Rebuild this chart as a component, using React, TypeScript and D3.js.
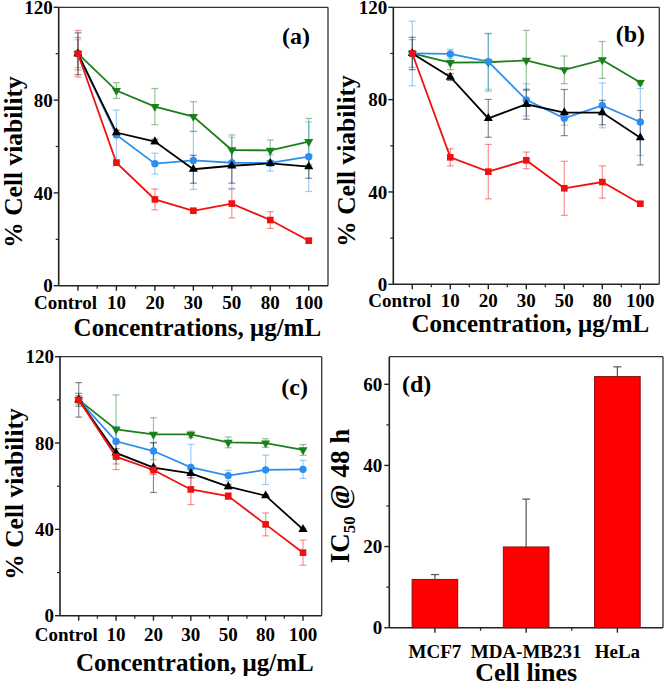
import React from "react";
import * as d3 from "d3";

const categories = ["Control", "10", "20", "30", "50", "80", "100"];
const yMajor = [0, 40, 80, 120];
const yMinor = [20, 60, 100];

// Panel (a)
const aGreen = [100, 84.1, 77.2, 72.9, 58.5, 58.3, 62.1];
const aGreenErr = [7, 3.4, 7.8, 6.4, 6.5, 4.5, 10];
const aBlue = [100, 65, 52.6, 54, 53, 52.9, 55.6];
const aBlueErr = [6, 10.7, 4.5, 12.5, 11, 3.5, 15];
const aBlack = [100, 66, 62.1, 50.2, 51.7, 52.7, 51.3];
const aBlackErr = [9, 1, 1, 6, 7.5, 1, 5];
const aRed = [100, 53, 37.2, 32.3, 35.4, 28.3, 19.4];
const aRedErr = [10, 0.6, 4.5, 1, 6.2, 3.6, 1];

// Panel (b)
const bGreen = [100, 96, 96.2, 97, 92.9, 97.2, 87.4];
const bGreenErr = [6, 3, 12.5, 13, 6, 8, 1];
const bBlue = [100, 99.8, 96.5, 79.9, 71.9, 77.5, 70.3];
const bBlueErr = [14, 2, 12, 7, 3, 9.7, 14.5];
const bBlack = [100, 89.8, 71.9, 78, 74.4, 74.4, 63.5];
const bBlackErr = [7, 1.5, 8.2, 6.5, 10, 5.3, 11.8];
const bRed = [100, 55, 48.8, 53.7, 41.6, 44.3, 34.9];
const bRedErr = [1, 3.7, 11.8, 3.6, 11.7, 7, 0.5];

// Panel (c)
const cGreen = [100, 86.3, 84, 84, 80.3, 80, 76.8];
const cGreenErr = [3, 16, 7.7, 1.5, 2.5, 2, 2.5];
const cBlue = [100, 80.8, 76.3, 68.7, 64.9, 67.6, 67.8];
const cBlueErr = [3, 7, 4, 10.7, 2.5, 6.8, 4.2];
const cBlack = [100, 75.4, 68.6, 65.9, 59.8, 55.6, 40];
const cBlackErr = [8, 2, 11.5, 2, 1, 0.5, 0.5];
const cRed = [100, 73.7, 67.5, 58.5, 55.4, 42.3, 29.2];
const cRedErr = [2, 6, 2, 7, 1.5, 5.3, 5.8];

// Panel (d)
const cellLines = ["MCF7", "MDA-MB231", "HeLa"];
const ic50 = [11.9, 19.9, 61.9];
const ic50Err = [1.2, 11.8, 2.4];
const dMajor = [0, 20, 40, 60];
const dMinor = [10, 30, 50];

const GREEN = "#1b7f1b";
const BLUE = "#2b8ff0";
const BLACK = "#000000";
const RED = "#f01010";
const FONT = "'Liberation Serif', 'Times New Roman', serif";

type Shape = "square" | "circle" | "up" | "down";
type Series = { values: number[]; errors: number[]; color: string; shape: Shape };

function markerPath(shape: Shape) {
  if (shape === "square") return d3.symbol(d3.symbolSquare, 44)()!;
  if (shape === "circle") return d3.symbol(d3.symbolCircle, 42)()!;
  return d3.symbol(d3.symbolTriangle, 36)()!;
}

type PanelProps = {
  x0: number; x1: number; yTop: number; yBottom: number;
  series: Series[]; xTitle: string; label: string;
  labelX: number; labelY: number; tickDy: number;
  xTitleY: number; yTitleX: number; yTitleY: number;
};

function LinePanel(p: PanelProps) {
  const x = d3.scalePoint<string>().domain(categories).range([p.x0, p.x1]).padding(0.5);
  const y = d3.scaleLinear().domain([0, 120]).range([p.yBottom, p.yTop]);
  const step = x.step();
  const line = d3.line<number>().x((_, i) => x(categories[i])!).y((d) => y(d));
  const cap = 3.5;
  return (
    <g>
      <line x1={p.x0} x2={p.x1} y1={p.yTop} y2={p.yTop} stroke="#333" strokeWidth={1.3} />
      <line x1={p.x1} x2={p.x1} y1={p.yTop} y2={p.yBottom} stroke="#333" strokeWidth={1.3} />
      <line x1={p.x0} x2={p.x0} y1={p.yTop} y2={p.yBottom} stroke="#222" strokeWidth={1.6} />
      <line x1={p.x0} x2={p.x1} y1={p.yBottom} y2={p.yBottom} stroke="#222" strokeWidth={1.6} />
      {yMajor.map((v) => (
        <g key={"ym" + v}>
          <line x1={p.x0 - 5} x2={p.x0} y1={y(v)} y2={y(v)} stroke="#222" strokeWidth={1.4} />
          <text x={p.x0 - 6} y={y(v)} dy="0.35em" textAnchor="end" fontSize={19} fontWeight="bold" fontFamily={FONT}>{v}</text>
        </g>
      ))}
      {yMinor.map((v) => (
        <line key={"yn" + v} x1={p.x0 - 3} x2={p.x0} y1={y(v)} y2={y(v)} stroke="#222" strokeWidth={1.2} />
      ))}
      {categories.map((c, i) => (
        <g key={"xm" + c}>
          <line x1={x(c)} x2={x(c)} y1={p.yBottom} y2={p.yBottom + 5} stroke="#222" strokeWidth={1.4} />
          {i < categories.length - 1 && (
            <line x1={x(c)! + step / 2} x2={x(c)! + step / 2} y1={p.yBottom} y2={p.yBottom + 3} stroke="#222" strokeWidth={1.2} />
          )}
          <text x={i === 0 ? x(c)! + 19 : x(c)} y={p.yBottom + p.tickDy} textAnchor={i === 0 ? "end" : "middle"}
            fontSize={19} fontWeight="bold" fontFamily={FONT}>{c}</text>
        </g>
      ))}
      {p.series.map((s, si) => (
        <g key={"e" + si} stroke={s.color} strokeOpacity={0.45} strokeWidth={1.2}>
          {s.values.map((v, i) => {
            const cx = x(categories[i])!;
            const t = y(v + s.errors[i]);
            const b = y(v - s.errors[i]);
            return (
              <g key={i}>
                <line x1={cx} x2={cx} y1={t} y2={b} />
                <line x1={cx - cap} x2={cx + cap} y1={t} y2={t} />
                <line x1={cx - cap} x2={cx + cap} y1={b} y2={b} />
              </g>
            );
          })}
        </g>
      ))}
      {p.series.map((s, si) => (
        <path key={"l" + si} d={line(s.values)!} fill="none" stroke={s.color} strokeWidth={1.8} />
      ))}
      {p.series.map((s, si) => (
        <g key={"m" + si}>
          {s.values.map((v, i) => (
            <path key={i} d={markerPath(s.shape)} fill={s.color}
              transform={`translate(${x(categories[i])},${y(v)})${s.shape === "down" ? " rotate(180)" : ""}`} />
          ))}
        </g>
      ))}
      <text x={p.labelX} y={p.labelY} textAnchor="end" fontSize={24} fontWeight="bold" fontFamily={FONT}>{p.label}</text>
      <text x={(p.x0 + p.x1) / 2 + 4} y={p.xTitleY} textAnchor="middle" fontSize={25} fontWeight="bold" fontFamily={FONT}>{p.xTitle}</text>
      <text transform={`translate(${p.yTitleX},${p.yTitleY}) rotate(-90)`} textAnchor="middle" fontSize={25.5}
        fontWeight="bold" fontFamily={FONT}>% Cell viability</text>
    </g>
  );
}

function BarPanel() {
  const x0 = 389.3, x1 = 663, yTop = 356.7, yBottom = 627.7;
  const x = d3.scaleBand<string>().domain(cellLines).range([x0, x1]).paddingInner(0.5).paddingOuter(0.25);
  const y = d3.scaleLinear().domain([0, 66.8]).range([yBottom, yTop]);
  const step = x.step();
  const bw = x.bandwidth();
  return (
    <g>
      <line x1={x0} x2={x1} y1={yTop} y2={yTop} stroke="#333" strokeWidth={1.3} />
      <line x1={x1} x2={x1} y1={yTop} y2={yBottom} stroke="#333" strokeWidth={1.3} />
      <line x1={x0} x2={x0} y1={yTop} y2={yBottom} stroke="#222" strokeWidth={1.6} />
      <line x1={x0} x2={x1} y1={yBottom} y2={yBottom} stroke="#222" strokeWidth={1.6} />
      {dMajor.map((v) => (
        <g key={"dm" + v}>
          <line x1={x0 - 5} x2={x0} y1={y(v)} y2={y(v)} stroke="#222" strokeWidth={1.4} />
          <text x={x0 - 7} y={y(v)} dy="0.35em" textAnchor="end" fontSize={19} fontWeight="bold" fontFamily={FONT}>{v}</text>
        </g>
      ))}
      {dMinor.map((v) => (
        <line key={"dn" + v} x1={x0 - 3} x2={x0} y1={y(v)} y2={y(v)} stroke="#222" strokeWidth={1.2} />
      ))}
      {cellLines.map((c, i) => {
        const cx = x(c)! + bw / 2;
        return (
          <g key={c}>
            <line x1={cx} x2={cx} y1={yBottom} y2={yBottom + 5} stroke="#222" strokeWidth={1.4} />
            {i < cellLines.length - 1 && (
              <line x1={cx + step / 2} x2={cx + step / 2} y1={yBottom} y2={yBottom + 3} stroke="#222" strokeWidth={1.2} />
            )}
            <rect x={x(c)} y={y(ic50[i])} width={bw} height={yBottom - y(ic50[i])} fill="#ff0000" stroke="#8a1010" strokeWidth={1} />
            <line x1={cx} x2={cx} y1={y(ic50[i])} y2={y(ic50[i] + ic50Err[i])} stroke="#555" strokeWidth={1.2} />
            <line x1={cx - 4} x2={cx + 4} y1={y(ic50[i] + ic50Err[i])} y2={y(ic50[i] + ic50Err[i])} stroke="#555" strokeWidth={1.2} />
            <text x={cx} y={yBottom + 30} textAnchor="middle" fontSize={19} fontWeight="bold" fontFamily={FONT}>{c}</text>
          </g>
        );
      })}
      <text x={402} y={392} fontSize={24} fontWeight="bold" fontFamily={FONT}>(d)</text>
      <text x={(x0 + x1) / 2} y={681} textAnchor="middle" fontSize={26} fontWeight="bold" fontFamily={FONT}>Cell lines</text>
      <text transform={`translate(${349},${496}) rotate(-90)`} textAnchor="middle" fontSize={27} fontWeight="bold" fontFamily={FONT}>
        <tspan>IC</tspan>
        <tspan fontSize={17} dy={6}>50</tspan>
        <tspan dy={-6}> @ 48 h</tspan>
      </text>
    </g>
  );
}

export default function App() {
  const mk = (g: number[], ge: number[], bl: number[], ble: number[], k: number[], ke: number[], r: number[], re: number[]): Series[] => [
    { values: g, errors: ge, color: GREEN, shape: "down" },
    { values: bl, errors: ble, color: BLUE, shape: "circle" },
    { values: k, errors: ke, color: BLACK, shape: "up" },
    { values: r, errors: re, color: RED, shape: "square" },
  ];
  return (
    <svg width={666} height={687} style={{ position: "absolute", left: 0, top: 0, background: "#fff" }}>
      <rect width={666} height={687} fill="#fff" />
      <LinePanel x0={58.7} x1={328} yTop={7.3} yBottom={285.7}
        series={mk(aGreen, aGreenErr, aBlue, aBlueErr, aBlack, aBlackErr, aRed, aRedErr)}
        xTitle="Concentrations, μg/mL" label="(a)" labelX={310} labelY={44} tickDy={23}
        xTitleY={336} yTitleX={22} yTitleY={162} />
      <LinePanel x0={393.3} x1={659.3} yTop={7.3} yBottom={284.3}
        series={mk(bGreen, bGreenErr, bBlue, bBlueErr, bBlack, bBlackErr, bRed, bRedErr)}
        xTitle="Concentration, μg/mL" label="(b)" labelX={645} labelY={42} tickDy={23}
        xTitleY={332} yTitleX={355} yTitleY={161} />
      <LinePanel x0={60} x1={321.7} yTop={356.7} yBottom={615.7}
        series={mk(cGreen, cGreenErr, cBlue, cBlueErr, cBlack, cBlackErr, cRed, cRedErr)}
        xTitle="Concentration, μg/mL" label="(c)" labelX={308} labelY={395} tickDy={25}
        xTitleY={671} yTitleX={23} yTitleY={494} />
      <BarPanel />
    </svg>
  );
}
